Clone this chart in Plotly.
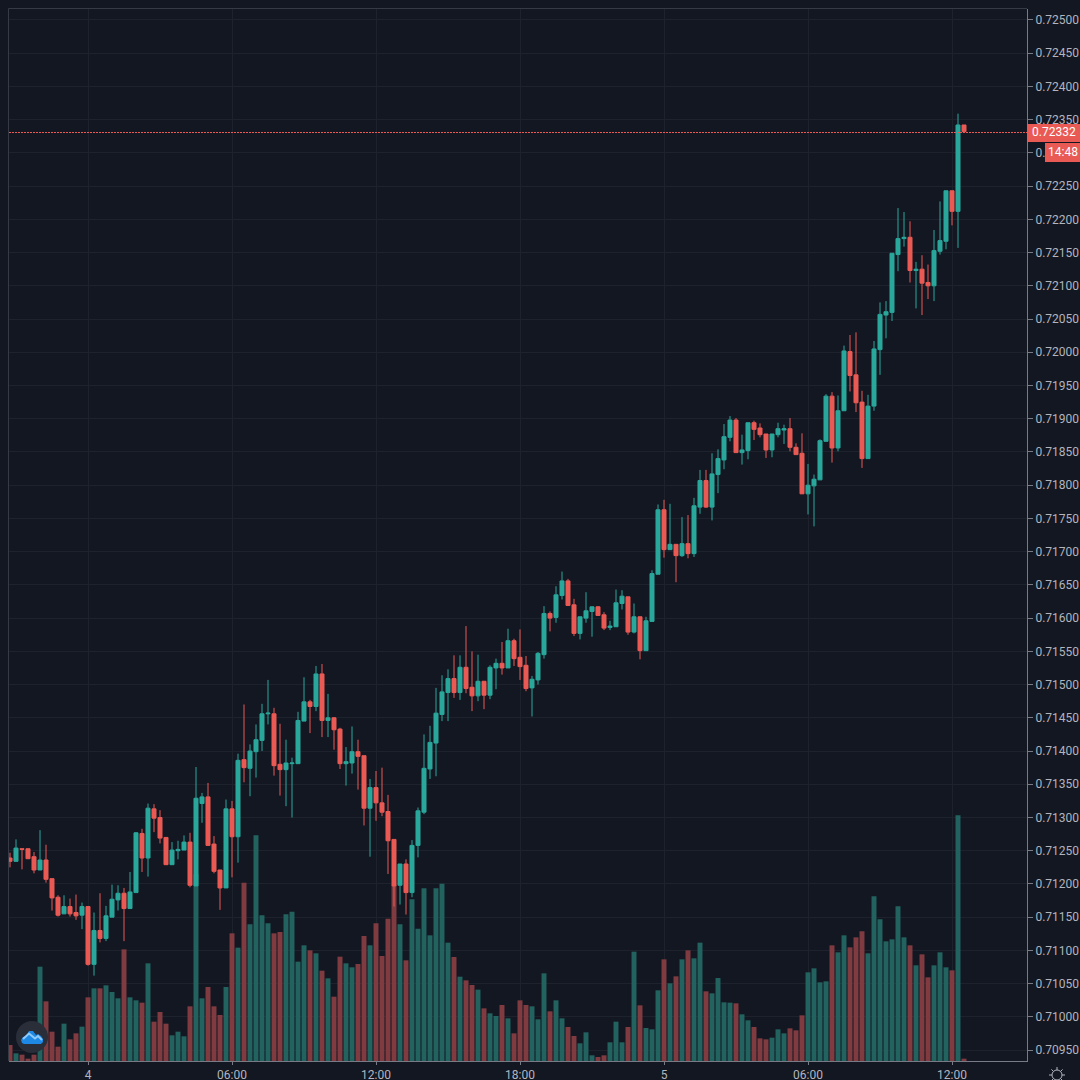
import pandas as pd
import plotly.graph_objects as go

# Prices in units of 0.00001
open_ = [71239,71234,71253,71253,71241,71221,71236,71208,71180,71155,
71166,71157,71153,71166,71079,71130,71118,71150,71176,71186,
71163,71187,71276,71239,71313,71300,71270,71229,71250,71251,
71263,71197,71321,71331,71260,71221,71194,71313,71271,71387,
71374,71399,71416,71456,71456,71380,71372,71381,71381,71445,
71474,71467,71516,71446,71450,71433,71381,71382,71399,71393,
71314,71345,71322,71309,71267,71198,71230,71187,71258,71308,
71373,71412,71455,71488,71509,71488,71526,71496,71483,71505,
71484,71525,71532,71525,71566,71541,71529,71495,71507,71545,
71607,71601,71634,71656,71620,71577,71600,71610,71617,71605,
71586,71587,71622,71632,71579,71602,71551,71595,71666,71763,
71703,71711,71694,71712,71697,71767,71807,71767,71816,71838,
71872,71898,71849,71852,71894,71886,71877,71853,71876,71883,
71885,71857,71848,71787,71799,71808,71866,71934,71856,71912,
72001,71966,71925,71840,71919,72004,72056,72060,72147,72171,
72173,72123,72125,72105,72100,72152,72167,72243,72212,72342]
close = [71234,71254,71252,71238,71221,71236,71207,71179,71153,71166,
71155,71152,71166,71079,71130,71118,71152,71177,71186,71163,
71188,71277,71239,71314,71299,71269,71229,71251,71252,71263,
71198,71329,71331,71258,71219,71194,71313,71271,71386,71375,
71400,71417,71456,71457,71378,71372,71382,71382,71446,71474,
71467,71516,71446,71450,71432,71381,71384,71399,71392,71314,
71345,71322,71308,71265,71197,71230,71187,71258,71310,71374,
71413,71457,71489,71509,71488,71526,71494,71483,71505,71484,
71526,71532,71525,71566,71539,71527,71494,71508,71547,71607,
71600,71635,71656,71619,71577,71602,71611,71617,71604,71585,
71588,71623,71633,71579,71602,71551,71596,71667,71763,71703,
71711,71694,71712,71697,71769,71807,71767,71817,71840,71873,
71898,71849,71853,71894,71884,71876,71853,71877,71885,71885,
71857,71846,71787,71800,71809,71867,71934,71856,71912,72002,
71965,71924,71840,71919,72005,72057,72061,72149,72171,72173,
72123,72125,72104,72100,72153,72168,72243,72212,72342,72332]
high = [71247,71267,71253,71253,71248,71281,71259,71208,71183,71183,
71178,71184,71172,71166,71157,71186,71167,71199,71198,71194,
71218,71278,71283,71321,71320,71311,71270,71263,71265,71273,
71277,71376,71337,71352,71272,71221,71327,71325,71396,71470,
71410,71440,71471,71507,71465,71441,71417,71390,71459,71511,
71477,71528,71531,71486,71451,71435,71406,71437,71417,71393,
71358,71370,71375,71334,71267,71230,71237,71266,71315,71425,
71438,71495,71514,71523,71544,71544,71588,71550,71545,71505,
71529,71539,71564,71584,71569,71583,71543,71513,71549,71618,
71610,71648,71670,71659,71629,71602,71639,71617,71618,71609,
71596,71643,71642,71632,71622,71602,71602,71672,71771,71778,
71772,71711,71752,71755,71781,71823,71823,71848,71854,71892,
71904,71901,71876,71894,71897,71893,71877,71877,71894,71891,
71901,71863,71878,71832,71816,71869,71937,71940,71935,72010,
72026,72030,71942,71936,72017,72075,72077,72149,72217,72211,
72197,72136,72146,72132,72184,72227,72243,72243,72359,72342]
low = [71225,71234,71222,71238,71216,71221,71202,71160,71151,71155,
71151,71146,71132,71077,71062,71112,71114,71150,71160,71114,
71163,71187,71218,71211,71278,71261,71229,71229,71237,71251,
71195,71197,71292,71258,71216,71161,71194,71210,71232,71353,
71332,71360,71400,71440,71363,71333,71317,71300,71381,71445,
71427,71460,71421,71421,71402,71373,71348,71366,71342,71288,
71241,71295,71302,71215,71166,71169,71154,71180,71240,71305,
71358,71362,71445,71445,71480,71477,71487,71460,71475,71463,
71478,71493,71515,71525,71528,71507,71490,71452,71500,71539,
71580,71593,71628,71619,71573,71568,71593,71572,71604,71582,
71582,71587,71613,71575,71577,71538,71551,71595,71666,71691,
71703,71654,71692,71690,71692,71757,71766,71747,71788,71824,
71866,71849,71831,71839,71868,71872,71841,71842,71872,71862,
71851,71846,71787,71756,71738,71808,71866,71834,71851,71912,
71941,71910,71826,71840,71912,71966,72021,72047,72122,72159,
72105,72066,72056,72080,72077,72147,72155,72191,72157,72332]
volume = [48,23,19,7,19,283,179,88,43,112,
65,83,103,191,218,218,227,207,188,335,
191,182,175,293,118,147,112,77,88,74,
164,560,188,222,164,138,222,383,340,535,
410,677,437,413,383,387,440,448,298,347,
332,323,271,248,193,313,293,281,291,375,
347,413,315,427,527,410,302,485,397,518,
377,518,532,355,312,253,242,228,214,158,
143,135,168,128,83,182,168,164,125,263,
149,182,128,102,75,53,86,17,12,17,
56,118,56,102,328,167,99,95,212,305,
233,254,305,332,308,355,209,203,249,176,
175,173,140,122,102,68,65,70,95,83,
98,92,137,266,278,236,239,347,326,377,
341,371,389,323,494,425,359,365,464,371,
347,287,320,251,287,326,281,272,737,7]
price_ticks = [70950,71000,71050,71100,71150,71200,71250,71300,71350,71400,71450,
71500,71550,71600,71650,71700,71750,71800,71850,71900,71950,72000,72050,72100,
72150,72200,72250,72300,72350,72400,72450,72500]
time_ticks = ["2021-06-04 00:00","2021-06-04 06:00","2021-06-04 12:00","2021-06-04 18:00",
              "2021-06-05 00:00","2021-06-05 06:00","2021-06-05 12:00"]
time_labels = ["4","06:00","12:00","18:00","5","06:00","12:00"]
last_price = 72332
countdown = "14:48"

BG, GRID, FRAME, AXIS, TXT = "#131722", "#1e222d", "#363a45", "#787b86", "#b2b5be"
UP, DOWN = "#2aa79b", "#ea5a55"
UPV, DOWNV = "#22635f", "#7f3b40"

x = pd.date_range("2021-06-03 20:45", periods=len(close), freq="15min")
P = lambda s: [v / 1e5 for v in s]
W, H = 1080, 1080
L, R, T, B = 9, 53, 9, 19
step = pd.Timedelta(minutes=15)
x0 = x[0] - step * (1 / 6)
x1 = x[0] + step * ((1027 - 10) / 6)

fig = go.Figure()
fig.add_bar(x=x, y=volume, yaxis="y", xaxis="x", showlegend=False, hoverinfo="skip",
            marker=dict(color=[UPV if c >= o else DOWNV for o, c in zip(open_, close)], line_width=0))
fig.add_candlestick(x=x, open=P(open_), high=P(high), low=P(low), close=P(close), yaxis="y2", xaxis="x",
                    showlegend=False, whiskerwidth=0,
                    increasing=dict(line=dict(color=UP, width=1), fillcolor=UP),
                    decreasing=dict(line=dict(color=DOWN, width=1), fillcolor=DOWN))

def sx(px): return (px - L) / (W - L - R)
def sy(py): return 1 - (py - T) / (H - T - B)
def path(points, close_path=False):
    s = "M " + " L ".join(f"{sx(a):.5f},{sy(b):.5f}" for a, b in points)
    return s + (" Z" if close_path else "")

gear_spokes = " ".join(path([(1057 + a, 1075 + b), (1057 + c, 1075 + d)]) for a, b, c, d in
                       [(0, -5, 0, -8), (0, 5, 0, 8), (-5, 0, -8, 0), (5, 0, 8, 0),
                        (-3.6, -3.6, -5.6, -5.6), (3.6, -3.6, 5.6, -5.6), (-3.6, 3.6, -5.6, 5.6), (3.6, 3.6, 5.6, 5.6)])
cloud = [(22, 1043), (21, 1040), (23, 1037), (26, 1036), (29, 1031), (33, 1031), (36, 1035), (38, 1034),
         (41, 1036), (43, 1039), (43, 1042), (41, 1044), (24, 1044)]
zig = [(23, 1039), (29, 1033.5), (35, 1038.5), (38, 1036), (42, 1040)]
shapes = [
    dict(type="line", xref="paper", yref="paper", x0=sx(8.5), x1=sx(8.5), y0=sy(1061), y1=sy(8.5),
         line=dict(color=FRAME, width=1), layer="above"),
    dict(type="line", xref="paper", yref="paper", x0=sx(8.5), x1=sx(1027), y0=sy(8.5), y1=sy(8.5),
         line=dict(color=FRAME, width=1), layer="above"),
    dict(type="line", xref="paper", yref="paper", x0=0, x1=1, y0=sy(132.5), y1=sy(132.5),
         line=dict(color=DOWN, width=1, dash="2px,1px"), layer="above"),
    dict(type="rect", xref="paper", yref="paper", x0=sx(1027), x1=sx(1080), y0=sy(142), y1=sy(124),
         fillcolor=DOWN, line_width=0, layer="above"),
    dict(type="rect", xref="paper", yref="paper", x0=sx(1045), x1=sx(1080), y0=sy(162), y1=sy(143),
         fillcolor=DOWN, line_width=0, layer="above"),
    dict(type="circle", xref="paper", yref="paper", x0=sx(16), x1=sx(48), y0=sy(1053), y1=sy(1021),
         fillcolor="#2a2e39", line_width=0, layer="above"),
    dict(type="path", xref="paper", yref="paper", path=path(cloud, True), fillcolor="#1e88e5",
         line_width=0, layer="above"),
    dict(type="path", xref="paper", yref="paper", path=path(zig), line=dict(color="#90caf9", width=2), layer="above"),
    dict(type="circle", xref="paper", yref="paper", x0=sx(1052), x1=sx(1062), y0=sy(1080), y1=sy(1070),
         line=dict(color=TXT, width=1), layer="above"),
    dict(type="path", xref="paper", yref="paper", path=gear_spokes, line=dict(color=TXT, width=1), layer="above"),
]
annots = [
    dict(xref="x", yref="y2", x=x1, y=last_price / 1e5, xshift=26.5, yshift=-0.5, text="0.72332", showarrow=False,
         font=dict(family="Roboto", size=12, color="#ffffff"), xanchor="center", yanchor="middle"),
    dict(xref="x", yref="y2", x=x1, y=last_price / 1e5, xshift=35.5, yshift=-20.5, text=countdown, showarrow=False,
         font=dict(family="Roboto", size=12, color="#ffffff"), xanchor="center", yanchor="middle"),
]
fig.update_layout(
    width=W, height=H, autosize=False, margin=dict(l=L, r=R, t=T, b=B, autoexpand=False),
    paper_bgcolor=BG, plot_bgcolor=BG, bargap=0.17, boxgap=0.33, boxgroupgap=0,
    font=dict(family="Roboto", size=12, color=TXT),
    hovermode=False, showlegend=False, shapes=shapes, annotations=annots,
    xaxis=dict(type="date", range=[x0, x1], rangeslider_visible=False, tickmode="array",
               tickvals=time_ticks, ticktext=time_labels, showgrid=True, gridcolor=GRID, gridwidth=1,
               ticks="outside", ticklen=3, tickcolor=AXIS, tickfont=dict(color=TXT, size=12),
               showline=True, linecolor=AXIS, mirror=False, zeroline=False),
    yaxis=dict(range=[0, 3156], domain=[0, 1], visible=False, fixedrange=True),
    yaxis2=dict(overlaying="y", side="right", anchor="x", range=[0.709336, 0.725165],
                tickmode="array", tickvals=P(price_ticks), ticktext=[f"{v/1e5:.5f}" for v in price_ticks],
                showgrid=True, gridcolor=GRID, gridwidth=1, ticks="outside", ticklen=5, tickcolor=AXIS,
                tickfont=dict(color=TXT, size=12), showline=True, linecolor=AXIS, mirror=False, zeroline=False),
)
fig.write_html("out.html", config={"displayModeBar": False},
               post_script="document.body.style.margin='0';document.body.style.background='#131722';")
